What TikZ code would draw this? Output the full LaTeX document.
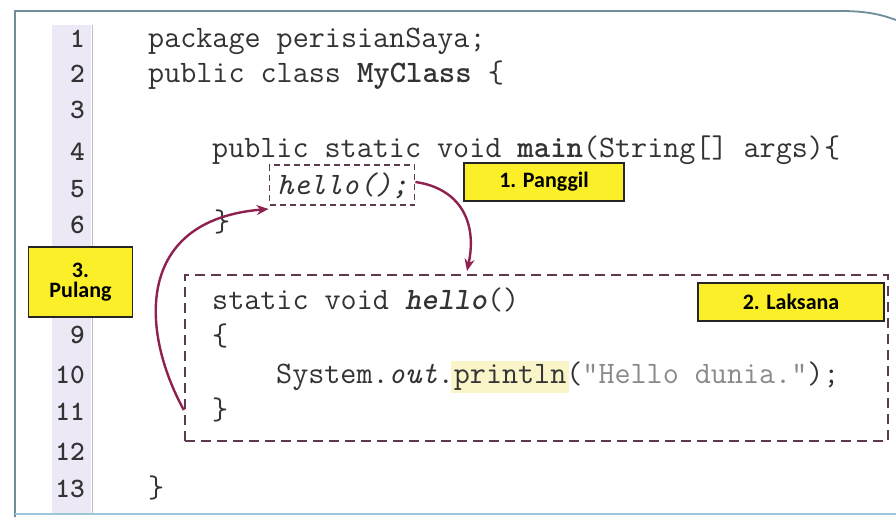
\documentclass[tikz,border=0pt]{standalone}
\usepackage{fontspec}
\newfontfamily\lblfont{Carlito}
\usetikzlibrary{arrows.meta}
\definecolor{codegray}{HTML}{333333}
\definecolor{strgray}{HTML}{8A8A8A}
\definecolor{gutter}{HTML}{ECE8F6}
\definecolor{arrowred}{HTML}{8E2150}
\definecolor{dashcol}{HTML}{5E3A50}
\definecolor{lblyellow}{HTML}{FBEF2A}
\definecolor{hl}{HTML}{FAF5C8}
\definecolor{framecol}{HTML}{6F8E9A}
\definecolor{framebot}{HTML}{9CC6DA}
\tikzset{
  code/.style={anchor=base west, inner sep=0pt, text=codegray, font=\fontsize{31.2}{34}\selectfont\ttfamily},
  lnum/.style={anchor=base east, inner sep=0pt, text=codegray, font=\fontsize{28}{30}\selectfont\ttfamily\bfseries},
  lbl/.style={draw=black!85, line width=1.8pt, fill=lblyellow, inner sep=0pt, font=\lblfont\fontsize{22}{22}\selectfont\bfseries, align=center},
  arr/.style={draw=arrowred, line width=2.4pt, -{Stealth[length=12pt,width=10pt]}},
}
\begin{document}
\begin{tikzpicture}[x=1pt,y=-1pt]
\useasboundingbox (0,0) rectangle (896,517);
\fill[white] (0,0) rectangle (896,517);
% frame
\draw[framecol, line width=1.8pt] (15,517) -- (15,11) -- (840,11) .. controls (865,11) and (880,14) .. (896,20);
\draw[framebot, line width=2pt] (15,514) -- (896,514);
% gutter
\fill[gutter] (52,25) rectangle (91,513);
\draw[black!25, line width=0.8pt] (92,25) -- (92,513);
% line numbers
\node[lnum] (n1) at (85,47) {1};
\node[lnum] (n2) at (85,82) {2};
\node[lnum] (n3) at (85,118) {3};
\node[lnum] (n4) at (85,160) {4};
\node[lnum] (n5) at (85,197) {5};
\node[lnum] (n6) at (85,233) {6};
\node[lnum] (n9) at (85,343) {9};
\node[lnum] (n10) at (85,383) {10};
\node[lnum] (n11) at (85,420) {11};
\node[lnum] (n12) at (85,460) {12};
\node[lnum] (n13) at (85,497) {13};
% code
\node[code] (c1) at (148,47) {package perisianSaya;};
\node[code] (c2) at (148,82) {public class \textbf{MyClass} \{};
\node[code] (c4) at (212,157) {public static void \textbf{main}(String[] args)\{};
\node[code] (c5) at (277,194) {\itshape hello();};
\node[code] (c6) at (214,231) {\}};
\node[code] (c8) at (212,309) {static void \textbf{\itshape hello}()};
\node[code] (c9) at (212,345) {\{};
\node[code] (c10) at (276,383) {System.\textit{out}.{\setlength{\fboxsep}{3pt}\kern-3pt\colorbox{hl}{println}\kern-3pt}(\textcolor{strgray}{"Hello dunia."});};
\node[code] (c11) at (212,419) {\}};
\node[code] (c13) at (148,497) {\}};
% dashed boxes
\node[draw=dashcol, dash pattern=on 6pt off 4pt, line width=1.8pt, minimum width=145pt, minimum height=40pt, inner sep=0pt] (call) at (342,185) {};
\node[draw=dashcol, dash pattern=on 10pt off 6pt, line width=2.4pt, minimum width=703pt, minimum height=166pt, inner sep=0pt] (body) at (536.5,358) {};
% labels
\node[lbl, minimum width=160pt, minimum height=38pt] (l1) at (544,182) {1. Panggil};
\node[lbl, minimum width=186pt, minimum height=38pt] (l2) at (791,302) {2. Laksana};
\node[lbl, minimum width=104pt, minimum height=70pt] (l3) at (80.5,282) {3.\\[-2pt]Pulang};
% arrows
\coordinate (a1s) at (call.east |- 0,182);
\coordinate (a1e) at (467,271);
\coordinate (a2s) at (body.west |- 0,410);
\coordinate (a2e) at (call.west |- 0,209);
\draw[arr] (a1s) .. controls (458,188) and (478,220) .. (a1e);
\draw[arr] (a2s) .. controls (140,330) and (135,220) .. (a2e);
\end{tikzpicture}
\end{document}
